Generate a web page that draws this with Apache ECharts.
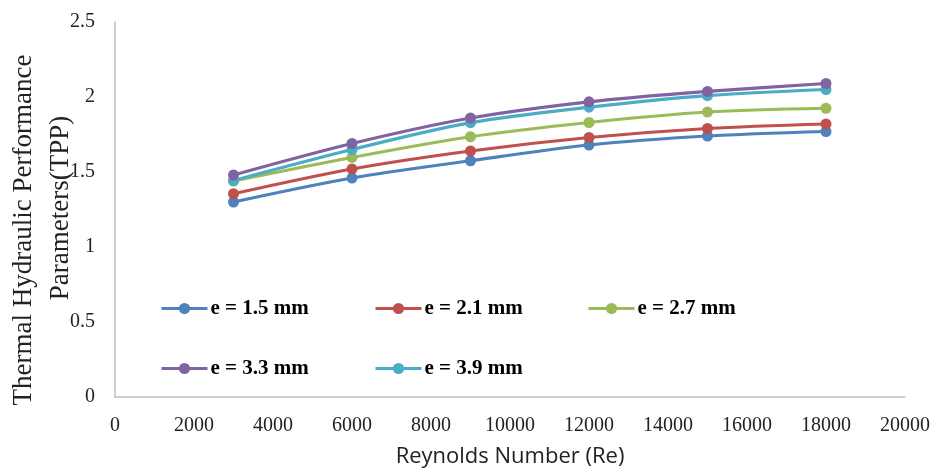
<!DOCTYPE html>
<html>
<head>
<meta charset="utf-8">
<script src="https://cdn.jsdelivr.net/npm/echarts@6/dist/echarts.min.js"></script>
<style>html,body{margin:0;padding:0;background:#fff}#c{width:936px;height:473px}</style>
</head>
<body>
<div id="c"></div>
<script>
var reynolds = [3000, 6000, 9000, 12000, 15000, 18000];
var seriesNames = ['e = 1.5 mm', 'e = 2.1 mm', 'e = 2.7 mm', 'e = 3.3 mm', 'e = 3.9 mm'];
var e15 = [1.30, 1.46, 1.575, 1.68, 1.74, 1.77];
var e21 = [1.355, 1.52, 1.64, 1.73, 1.79, 1.82];
var e27 = [1.44, 1.597, 1.735, 1.83, 1.90, 1.925];
var e33 = [1.48, 1.69, 1.86, 1.968, 2.037, 2.09];
var e39 = [1.443, 1.65, 1.829, 1.932, 2.009, 2.05];
var yTitleLines = ['Thermal Hydraulic Performance', 'Parameters(TPP)'];
var colors = ['#4F81BD', '#C0504D', '#9BBB59', '#8064A2', '#4BACC6'];
var allValues = [e15, e21, e27, e33, e39];

var chart = echarts.init(document.getElementById('c'));
var series = seriesNames.map(function (n, i) {
  return {
    name: n, type: 'line', smooth: 0.3,
    data: reynolds.map(function (x, j) { return [x, allValues[i][j]]; }),
    symbol: 'circle', symbolSize: 11,
    lineStyle: { width: 3.2, color: colors[i] },
    itemStyle: { color: colors[i] },
    z: [1, 2, 3, 5, 4][i]
  };
});
var legendPos = [[160, 298], [374, 298], [587, 298], [160, 358], [374, 358]];
var legends = seriesNames.map(function (n, i) {
  return {
    data: [n], left: legendPos[i][0], top: legendPos[i][1],
    itemWidth: 46, itemHeight: 14, itemGap: 0, padding: 0,
    lineStyle: { width: 3 },
    textStyle: { fontFamily: 'Liberation Serif', fontWeight: 'bold', fontSize: 21, color: '#000', padding: [0, 0, 0, -2] }
  };
});
chart.setOption({
  animation: false,
  color: colors,
  grid: { left: 115, right: 31, top: 22, bottom: 71 },
  legend: legends,
  graphic: [
    { type: 'text', x: 24, y: 230, rotation: Math.PI / 2,
      style: { text: yTitleLines[0], font: '27px "Liberation Serif"', fill: '#222', textAlign: 'center', textVerticalAlign: 'middle' } },
    { type: 'text', x: 61, y: 208, rotation: Math.PI / 2,
      style: { text: yTitleLines[1], font: '27px "Liberation Serif"', fill: '#222', textAlign: 'center', textVerticalAlign: 'middle' } }
  ],
  xAxis: {
    type: 'value', min: 0, max: 20000, interval: 2000,
    name: 'Reynolds Number (Re)', nameLocation: 'middle', nameGap: 49,
    nameTextStyle: { fontFamily: 'Open Sans', fontSize: 22, color: '#222' },
    axisLine: { lineStyle: { color: '#BFBFBF', width: 1.5 } },
    axisTick: { show: false },
    splitLine: { show: false },
    axisLabel: { fontFamily: 'Liberation Serif', fontSize: 20, color: '#222', margin: 19,
      formatter: function (v) { return String(v); } }
  },
  yAxis: {
    type: 'value', min: 0, max: 2.5, interval: 0.5,
    axisLine: { show: true, lineStyle: { color: '#BFBFBF', width: 1.5 } },
    axisTick: { show: false },
    splitLine: { show: false },
    axisLabel: { fontFamily: 'Liberation Serif', fontSize: 20, color: '#222', margin: 20 }
  },
  series: series
});
</script>
</body>
</html>
